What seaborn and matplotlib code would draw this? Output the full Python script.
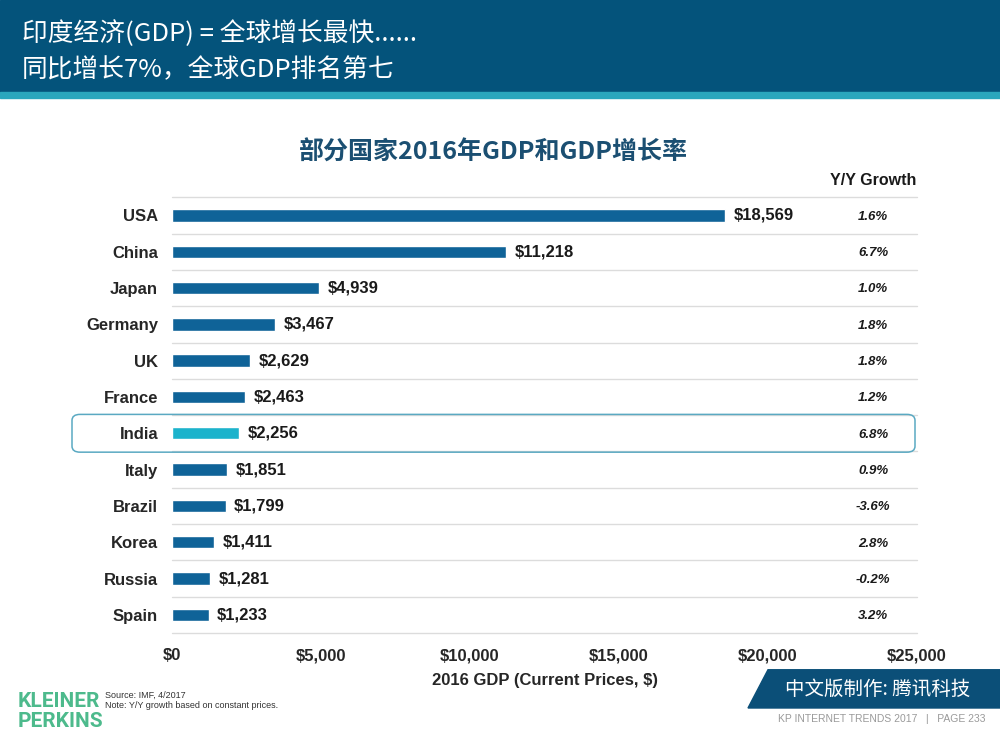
import matplotlib
matplotlib.use("Agg")
import matplotlib.pyplot as plt
import seaborn as sns
import pandas as pd
from matplotlib.patches import Rectangle, FancyBboxPatch, Polygon
from matplotlib.transforms import blended_transform_factory

# data
countries = ['USA', 'China', 'Japan', 'Germany', 'UK', 'France', 'India',
             'Italy', 'Brazil', 'Korea', 'Russia', 'Spain']
gdp_2016 = [18569, 11218, 4939, 3467, 2629, 2463, 2256, 1851, 1799, 1411, 1281, 1233]
yoy_growth = [1.6, 6.7, 1.0, 1.8, 1.8, 1.2, 6.8, 0.9, -3.6, 2.8, -0.2, 3.2]
x_ticks = [0, 5000, 10000, 15000, 20000, 25000]

BAR = '#0f6398'
INDIA = '#1cb3cc'
NAVY = '#04537b'

sns.set_theme(style='white')
plt.rcParams['font.family'] = ['Liberation Sans', 'Noto Sans CJK SC', 'DejaVu Sans']

df = pd.DataFrame({'country': countries, 'gdp': gdp_2016})
df['group'] = ['India' if c == 'India' else 'Other' for c in countries]

fig = plt.figure(figsize=(10, 7.5), dpi=100)
ax = fig.add_axes([0.172, 0.156, 0.745, 0.581])

sns.barplot(data=df, x='gdp', y='country', hue='group', orient='h',
            palette={'Other': BAR, 'India': INDIA}, width=0.34, saturation=1,
            dodge=False, legend=False, ax=ax)

ax.set_xlim(0, 25000)
ax.set_ylim(len(countries) - 0.5, -0.5)
for k in range(len(countries) + 1):
    ax.axhline(k - 0.5, color='#dcdcdc', lw=1, zorder=0, clip_on=False)

for s in ax.spines.values():
    s.set_visible(False)
ax.tick_params(axis='both', length=0)
ax.set_xticks(x_ticks)
ax.set_xticklabels(['${:,}'.format(v) for v in x_ticks], fontsize=12, fontweight='bold')
ax.tick_params(axis='x', pad=11)
ax.set_yticks(range(len(countries)))
ax.set_yticklabels(countries, fontsize=12, fontweight='bold')
ax.tick_params(axis='y', pad=10)
ax.set_ylabel('')
ax.set_xlabel('2016 GDP (Current Prices, $)', fontsize=12, fontweight='bold', labelpad=7)

for i, v in enumerate(gdp_2016):
    ax.annotate('${:,}'.format(v), (v, i), xytext=(6, 0), textcoords='offset points',
                va='center', ha='left', fontsize=12, fontweight='bold', color='#1a1a1a')

tr = blended_transform_factory(ax.transAxes, ax.transData)
for i, g in enumerate(yoy_growth):
    ax.text(0.941, i + 0.04, '{:.1f}%'.format(g), transform=tr, ha='center', va='center',
            fontsize=9.5, fontweight='bold', style='italic', color='#1a1a1a')
ax.text(0.941, -0.95, 'Y/Y Growth', transform=tr, ha='center', va='center',
        fontsize=11.5, fontweight='bold', color='#1a1a1a')

# highlight box around India row
idx = countries.index('India')
box = FancyBboxPatch((0.072, 0.0), 0.843, 0.0, boxstyle='round,pad=0,rounding_size=0.008',
                     transform=fig.transFigure, fill=False, ec='#5aa9c2', lw=1.1)
y_top = ax.transData.transform((0, idx - 0.52))[1] / 750
y_bot = ax.transData.transform((0, idx + 0.52))[1] / 750
box.set_bounds(0.072, y_bot, 0.843, y_top - y_bot)
fig.patches.append(box)

# header band
fig.patches.append(Rectangle((0, 0.877), 1, 0.123, transform=fig.transFigure,
                             color=NAVY, zorder=0))
fig.patches.append(Rectangle((0, 0.870), 1, 0.008, transform=fig.transFigure,
                             color='#2aa6bd', zorder=0))
hdr_font = ['Noto Sans CJK SC', 'DejaVu Sans']
fig.text(0.022, 0.955, '印度经济(GDP) = 全球增长最快......', color='white', fontsize=18.5,
         va='center', family=hdr_font)
fig.text(0.022, 0.907, '同比增长7%，全球GDP排名第七', color='white', fontsize=18.5,
         va='center', family=hdr_font)

fig.text(0.493, 0.797, '部分国家2016年GDP和GDP增长率', color='#1b4f72', fontsize=18,
         fontweight='bold', ha='center', va='center',
         family=['Noto Sans CJK SC', 'DejaVu Sans'])

# footer
fig.text(0.018, 0.051, 'KLEINER\nPERKINS', color='#4dba8c', fontsize=15, fontweight='bold',
         va='center', ha='left', linespacing=1.05, family=['Roboto', 'DejaVu Sans'])
fig.text(0.105, 0.066, 'Source: IMF, 4/2017\nNote: Y/Y growth based on constant prices.',
         fontsize=6.5, color='#333333', va='center', ha='left', linespacing=1.15)

fig.patches.append(Polygon([(0.748, 0.056), (0.768, 0.107), (1.0, 0.107), (1.0, 0.056)],
                           closed=True, transform=fig.transFigure, color='#0b4f78'))
fig.text(0.878, 0.081, '中文版制作: 腾讯科技', color='white', fontsize=14, ha='center',
         va='center', family=['Noto Sans CJK SC', 'DejaVu Sans'])
fig.text(0.985, 0.041, 'KP INTERNET TRENDS 2017   |   PAGE 233', color='#9a9a9a',
         fontsize=7.5, ha='right', va='center')

fig.savefig('out.png', dpi=100)
